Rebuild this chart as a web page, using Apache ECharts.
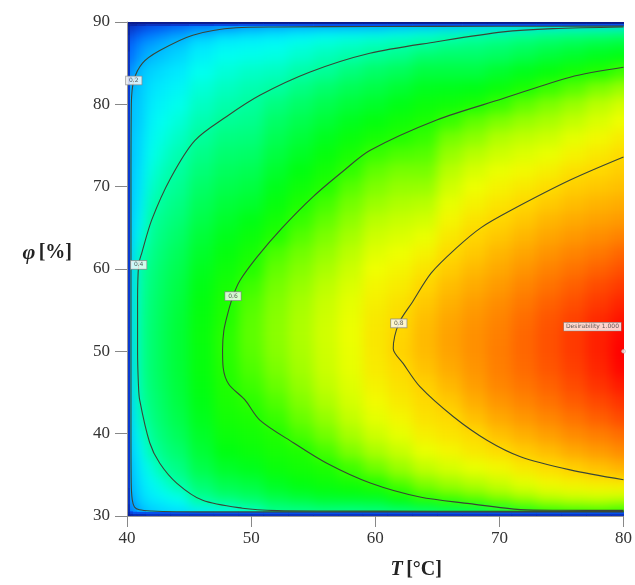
<!DOCTYPE html>
<html><head><meta charset="utf-8">
<script src="https://cdn.jsdelivr.net/npm/echarts@6/dist/echarts.min.js"></script>
<style>html,body{margin:0;padding:0;background:#fff}#c{width:635px;height:585px}</style>
</head><body><div id="c"></div>
<script>
// Temperature nodes (x) and relative humidity nodes (y) of the read-off grid
const T_NODES = [40, 40.15, 40.35, 40.6, 41, 42, 43, 44, 46, 48, 50, 52, 54, 56, 58, 60, 62, 64, 66, 68, 70, 72, 74, 76, 78, 80];
const PHI_NODES = [30, 30.2, 30.45, 30.7, 31, 32, 33, 34, 36, 38, 40, 42, 44, 46, 48, 50, 52, 54, 56, 58, 60, 62, 64, 66, 68, 70, 72, 74, 76, 78, 80, 82, 84, 86, 87, 88, 89, 89.4, 89.7, 90];
// Desirability (%) read from the colour field, one row per T node, values along PHI_NODES
const DESIRABILITY = [
 [0,0,0,0,0,0,0,0,0,0,0,0,0,0,0,0,0,0,0,0,0,0,0,0,0,0,0,0,0,0,0,0,0,0,0,0,0,0,0,0],
 [0,1,2,3,3,4,4,5,5,5,5,5,5,5,5,5,5,5,5,5,5,5,5,5,5,5,5,5,5,5,5,5,4,4,3,3,2,2,1,0],
 [0,2,6,9,12,15,17,18,19,20,20.5,21,21,21,21,21,21,21,21,21,21,21,20.5,20.5,20.5,20.5,20.5,20.5,20.5,20,20,18,14,11,10,8,5,3,2,0],
 [0,3,8,14,19,20,21,21.5,22.5,24,25.5,27.5,29,30,31,31,31,30.5,29.5,28.5,27.5,26,24.5,23.5,22.5,22,21.5,21,21,20.5,20.5,20,18,14,13,11,8,5,2,0],
 [0,3,8,17,21,22.5,23.5,24.5,26,28.5,33,37,39.5,40.5,41,41,41,41,40.5,40,39.5,37,32,28.5,26.5,25,24.5,23.5,23,22,21.5,21,20.5,17,15.5,13,9,6,3,0],
 [0,4,8,21,22.5,25,27,29,33,39,41.5,43,44,44.7,45,45,45,44.8,44.5,44,43.2,42.3,41.2,40,37.5,35,32.5,30.5,29,27.5,26,24.5,22.5,19.5,17.5,15,11,8,4,0],
 [0,4,8,22,24,27.5,30.5,34,40.5,43,44.7,46,46.8,47.5,47.9,48,48,47.8,47.4,46.8,46,45,43.8,42.5,41,39.3,37,34.5,32,30,28,26,24,21,19.5,17,13,9,4,0],
 [0,4,8,22,26,30,34,40,43,45.5,47.5,49,50,50.6,50.9,51,51,50.8,50.2,49.5,48.5,47.5,46,44.5,43,41.5,40,38,35.5,33,30.5,28,25.5,23,21,19,15,11,5,0],
 [0,4,8,24,32,40,43,45.5,49,51,52.5,53.7,54.6,55.3,55.8,56,56.1,55.8,55.3,54.5,53.5,52.2,50.8,49.2,47.6,46,44.3,42.5,40.5,38,35.5,33,30,27,25,22.5,18,13,6,0],
 [0,4,8,27,35,43,46.5,49,52.5,55,56.7,58,59,59.7,60.2,60.5,60.5,60,59.3,58.3,57,55.6,54,52.3,50.5,48.8,47,45.2,43.3,41,38.5,36,33,30,28,25,20.5,15,7,0],
 [0,4,8,30,40.5,45,48,50.5,54,56.5,58,59.3,60.7,61.8,62.8,63.5,63.8,63.6,63,61.8,60.2,58.5,56.5,54.5,52,50,48,46,44,42,40.3,38,35,31,29,26,22,17,8,0],
 [0,4,8,41,43,48,51,53.5,56.5,58.5,59.8,61.5,63,64.5,65.7,66.5,66.8,66.7,66.2,65.3,64.1,62.6,60.1,58,56,54,52,50,48,46,43.5,40,36,32,30,27,23.5,18,8,0],
 [0,4,8,40,44.5,49.5,53,55.5,58,59.7,62.5,64.5,66.2,67.5,68.5,69,69.3,69.2,68.7,67.7,66.5,65,63.2,61.3,59.5,57.2,55,52.8,50.7,48.5,46,43,39,34.5,32.5,29,24.5,19,8,0],
 [0,4,8,40,46,51,54.5,57,59.4,62.5,65.2,67.5,69.3,70.7,71.6,72,72.2,72,71.4,70.4,69,67.5,65.8,64,62.2,60.1,58,55.8,53.5,51,48.5,45.5,41,37,34.5,31,26,19,8,0],
 [0,4,8,40,45.5,51.5,55.5,58.5,62,66,68.8,71,72.5,73.5,74.2,74.5,74.7,74.5,74,73,71.8,70.3,68.7,67,65.2,63.3,61,58.7,56.2,53.5,50.8,47.8,44,39,36.2,32.5,26.5,19,8,0],
 [0,4,8,41,46,52,56.5,60.5,65,69,72,74,75.5,76.7,77.6,78,78.1,77.8,77.1,76.2,75,73.6,72,70,68,66,64,61.5,58.5,55.5,52.5,49.5,46,41,38,34,27,19,8,0],
 [0,4,8,41,48,55.5,60,63.5,68,71.5,74.2,76.2,77.7,78.8,79.6,80.5,80.2,79.7,78.8,77.6,76.3,74.8,73.1,71.3,69.4,67.5,65.5,62.8,60.1,57.5,54.5,51.5,47.5,42.5,39.5,35.5,29,20,8,0],
 [0,4,8,42,50,59,63.5,66.5,71,74.5,77,78.7,79.7,80.7,82.2,83,83.1,82.6,81.6,80.2,78.5,76.5,74.5,72.3,70,67.7,65.5,63.3,61.3,59,56.5,53.5,50,45.5,41,37.5,31,21,8,0],
 [0,4,8,42,53,61,65.5,68.5,72.8,76.2,78.5,79.7,81.6,83.3,84.7,85.5,85.6,85.1,84.1,82.8,81.3,79.8,78,76.2,74.2,72.1,70,67.7,65.3,61.5,57.5,54,50,46,43,39.5,33,22,8,0],
 [0,4,8,42,55,63,67,70,74.5,78,79.7,82.5,84.5,86,87,87.5,87.5,87,86,84.7,83.2,81.6,80.3,78.6,76.7,74.8,72.8,70,67,64,59,54.5,50,46,43.5,41,35,24,8,0],
 [0,4,8,45,60,65,69,72,76,79.5,82.5,85,87,88.5,89.3,89.5,89.3,88.8,87.8,86.5,85,83.5,81.8,80.2,78.5,76.5,74.5,72,69.5,66,61.5,56.5,52,47,45,42,37,25,8,0],
 [0,4,8,52,62,67,71,74,78,81.5,84.3,86.8,88.8,90.3,91.2,91.5,91.5,91,90,88.6,87,85.3,83.5,81.8,80,78,75.8,73.3,70.8,67.8,64,59,54,49,46.5,43.5,39,27,8,0],
 [0,4,8,56,64,69,73,76,79.5,83,86,88.5,90.5,92,93,93.5,93.5,93,92,90.5,89,87.2,85.3,83.5,81.5,79.5,77,74.5,72,69,66,61.5,56,51,48,45,40.5,29,8,0],
 [0,4,8,57,65,70,74,77,81,85,88,90.5,92.5,94,95,95.5,95.5,94.8,93.7,92.2,90.5,88.7,86.7,84.8,82.8,81,79,76.5,74,71,68,63.5,58,52.5,49.5,46,41.5,30,8,0],
 [0,4,8,58,65.5,70.5,74.5,78,82.5,86.5,89.5,92.2,94.3,96,97,97.5,97.5,96.7,95.5,94,92,90,87.8,85.7,83.7,81.8,80,78,75.8,73,70.3,66,60,54,51,47,42,30,8,0],
 [0,4,8,58,64,70,74.5,78.5,84,88,91,94,96,98,99.5,100,99.5,98.5,97,95.5,93.5,91.5,89,86.5,84.5,82.5,81,79.5,77.5,75,72.5,68,62,55,52,48,43,30,8,0]
];
// Contour lines: [T, phi]
const CONTOUR_02 = [[80,89.5],[70,89.48],[60,89.45],[52,89.4],[48.8,89.3],[45.3,88.4],[42.6,86.5],[41.25,85.0],[40.55,82.9],[40.35,80],[40.32,70],[40.32,60],[40.32,50],[40.32,40],[40.34,34],[40.42,32],[40.6,31.1],[41,30.75],[42,30.6],[44,30.52],[48,30.5],[60,30.5],[80,30.5]];
const CONTOUR_04 = [[80,89.4],[74.3,89.2],[70.3,88.8],[64.95,87.6],[59.56,86.2],[54.7,83.9],[50.7,81.1],[48,78.5],[45.46,75.6],[43.5,71.0],[42.0,66.0],[41.2,62.0],[40.94,60.5],[40.85,56],[40.85,50],[40.92,46],[41.02,44.1],[41.83,38.9],[42.64,36.4],[44.0,34.0],[46.1,31.9],[49.3,30.95],[52.1,30.65],[56,30.6],[65,30.58],[80,30.56]];
const CONTOUR_06 = [[80,84.5],[75.7,83.3],[70.3,80.7],[64.95,78.1],[59.56,74.4],[57.5,72],[55,68.8],[52.5,65],[50.5,61.5],[49.1,58.6],[48.54,56.7],[48.1,54.5],[47.8,52.5],[47.7,50.2],[47.75,48],[48.2,46],[49.5,44.1],[50.7,41.65],[53.4,38.9],[56.1,36.4],[59.6,34.0],[63.6,32.3],[67.6,31.5],[71.7,30.78],[75,30.7],[80,30.68]];
const CONTOUR_08 = [[80,73.6],[75.7,70.8],[70.9,67.1],[68.5,65],[66.5,62.5],[64.5,59.5],[63,56],[61.9,53.4],[61.45,50.35],[62.26,48.5],[63.6,45.7],[66.3,42.05],[69.0,39.2],[71.7,37.2],[75.7,35.6],[80,34.4]];
const CONTOUR_LABELS = [[40.55,82.9,'0.2'],[40.94,60.5,'0.4'],[48.54,56.7,'0.6'],[61.9,53.4,'0.8']];
const OPTIMUM = [[80,50]];
const OPTIMUM_LABEL = [[77.5,53.0,'Desirability 1.000']];
const X_TICKS = {min:40, max:80, step:10};
const Y_TICKS = {min:30, max:90, step:10};
// colour ramp (blue -> cyan -> green -> yellow -> red), evenly spaced over 0..100
const RAMP = ['#0a1a8c','#0a3ad0','#0060ff','#0090ff','#00c0ff','#00e8ff','#00fff0','#00ffc8','#00ffa0','#00ff70','#00ff40','#00ff10','#20ff00','#70ff00','#b8ff00','#f0ff00','#ffd800','#ffa800','#ff7800','#ff4000','#ff0000'];

// build cells from the node grid
const cells = [];
const mid = (a, i) => i >= a.length - 1 ? a[a.length - 1] : (a[i] + a[i + 1]) / 2;
for (let i = 0; i < T_NODES.length; i++) {
  for (let j = 0; j < PHI_NODES.length; j++) {
    cells.push([T_NODES[i], PHI_NODES[j], DESIRABILITY[i][j],
      i === 0 ? T_NODES[0] : mid(T_NODES, i - 1), mid(T_NODES, i),
      j === 0 ? PHI_NODES[0] : mid(PHI_NODES, j - 1), mid(PHI_NODES, j)]);
  }
}
function renderCell(params, api) {
  const a = api.coord([api.value(3), api.value(6)]);
  const b = api.coord([api.value(4), api.value(5)]);
  return {type: 'rect', shape: {x: a[0], y: a[1], width: b[0] - a[0] + 0.7, height: b[1] - a[1] + 0.7},
    style: {fill: api.visual('color')}};
}
const lineStyle = {color: '#3a4636', width: 1.1};
const contourSeries = [CONTOUR_02, CONTOUR_04, CONTOUR_06, CONTOUR_08].map(d => ({
  type: 'line', data: d, showSymbol: false, smooth: 0.3, lineStyle: lineStyle, silent: true, z: 3, zlevel: 1, clip: true
}));
const serif = 'Liberation Serif';
const chart = echarts.init(document.getElementById('c'));
chart.setOption({
  animation: false,
  grid: {left: 127, right: 11.5, top: 22, bottom: 69},
  visualMap: {type: 'continuous', show: false, min: 0, max: 100, dimension: 2, seriesIndex: 0, inRange: {color: RAMP}},
  xAxis: {type: 'value', zlevel: 1, min: X_TICKS.min, max: X_TICKS.max, interval: X_TICKS.step,
    name: '{i|T} {r|[°C]}', nameLocation: 'middle', nameGap: 44,
    nameTextStyle: {padding: [0, 0, 0, 82], rich: {
      i: {fontFamily: serif, fontStyle: 'italic', fontWeight: 'bold', fontSize: 20, color: '#222'},
      r: {fontFamily: serif, fontWeight: 'bold', fontSize: 20, color: '#222'}}},
    axisLine: {lineStyle: {color: '#999'}}, axisTick: {length: 11, lineStyle: {color: '#888'}},
    axisLabel: {fontFamily: serif, fontSize: 17, color: '#333', margin: 14}, splitLine: {show: false}},
  yAxis: {type: 'value', zlevel: 1, min: Y_TICKS.min, max: Y_TICKS.max, interval: Y_TICKS.step,
    name: '{i|φ} {r|[%]}', nameLocation: 'middle', nameRotate: 0, nameGap: 55,
    nameTextStyle: {padding: [0, 0, 32, 0], rich: {
      i: {fontFamily: serif, fontStyle: 'italic', fontWeight: 'bold', fontSize: 22, color: '#222'},
      r: {fontFamily: serif, fontWeight: 'bold', fontSize: 20, color: '#222'}}},
    axisLine: {lineStyle: {color: '#999'}}, axisTick: {length: 12, lineStyle: {color: '#888'}},
    axisLabel: {fontFamily: serif, fontSize: 17, color: '#333', margin: 17}, splitLine: {show: false}},
  series: [
    {type: 'custom', data: cells, renderItem: renderCell, encode: {x: 0, y: 1}, silent: true, z: 1, zlevel: 0, clip: true},
    ...contourSeries,
    {type: 'scatter', data: CONTOUR_LABELS, symbolSize: 1, itemStyle: {color: 'rgba(0,0,0,0)'}, z: 5, zlevel: 1, silent: true,
      label: {show: true, position: 'inside', formatter: p => p.value[2], fontSize: 6, fontFamily: 'DejaVu Sans',
        color: '#333', backgroundColor: '#fff', borderColor: '#888', borderWidth: 0.8, padding: [1, 3]}},
    {type: 'scatter', data: OPTIMUM, symbol: 'circle', symbolSize: 4, itemStyle: {color: '#eee', borderColor: '#999', borderWidth: 0.5}, z: 5, zlevel: 1, silent: true},
    {type: 'scatter', data: OPTIMUM_LABEL, symbolSize: 1, itemStyle: {color: 'rgba(0,0,0,0)'}, z: 5, zlevel: 1, silent: true,
      label: {show: true, position: 'inside', formatter: p => p.value[2], fontSize: 6, fontFamily: 'DejaVu Sans',
        color: '#333', backgroundColor: '#fff', borderColor: '#888', borderWidth: 0.6, padding: [1, 2]}}
  ]
});

// soften the cell grid of the colour field (display only); the thin dark border rows/columns stay crisp
let smoothed = false;
function smoothField() {
  if (smoothed) return;
  try {
    const layer = chart.getZr().painter.getLayer(0);
    const cv = layer.dom, dpr = layer.dpr || window.devicePixelRatio || 1;
    const r = chart.getModel().getComponent('grid').coordinateSystem.getRect();
    const pL = chart.convertToPixel({gridIndex: 0}, [mid(T_NODES, 1), mid(PHI_NODES, PHI_NODES.length - 3)]);
    const pB = chart.convertToPixel({gridIndex: 0}, [mid(T_NODES, 1), mid(PHI_NODES, 2)]);
    const x = Math.round(pL[0] * dpr), y = Math.round(pL[1] * dpr);
    const w = Math.round((r.x + r.width) * dpr) - x, h = Math.round(pB[1] * dpr) - y;
    const pad = Math.round(24 * dpr);
    const mk = (W, H) => { const c = document.createElement('canvas'); c.width = W; c.height = H; return c; };
    const a = mk(w + 2 * pad, h + 2 * pad), ac = a.getContext('2d');
    ac.drawImage(cv, x, y, w, h, pad, pad, w, h);
    ac.drawImage(cv, x, y, 1, h, 0, pad, pad, h);
    ac.drawImage(cv, x + w - 1, y, 1, h, pad + w, pad, pad, h);
    const b = mk(a.width, a.height); b.getContext('2d').drawImage(a, 0, 0);
    ac.drawImage(b, 0, pad, a.width, 1, 0, 0, a.width, pad);
    ac.drawImage(b, 0, pad + h - 1, a.width, 1, 0, pad + h, a.width, pad);
    const c = mk(a.width, a.height), cc = c.getContext('2d');
    cc.filter = 'blur(' + (6 * dpr) + 'px)';
    cc.drawImage(a, 0, 0);
    const ctx = cv.getContext('2d');
    ctx.save(); ctx.setTransform(1, 0, 0, 1, 0, 0);
    ctx.clearRect(x, y, w, h);
    ctx.drawImage(c, pad, pad, w, h, x, y, w, h);
    ctx.restore();
    smoothed = true;
  } catch (e) { console.error(e); }
}
chart.on('finished', smoothField);
setTimeout(smoothField, 300);
</script></body></html>
